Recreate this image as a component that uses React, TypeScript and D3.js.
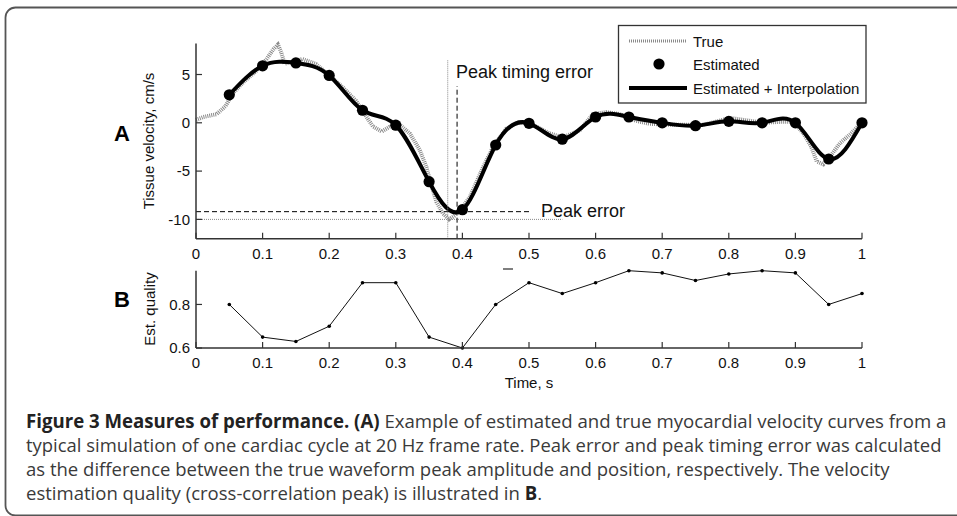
import React from "react";
import * as d3 from "d3";

const xTicks = [0, 0.1, 0.2, 0.3, 0.4, 0.5, 0.6, 0.7, 0.8, 0.9, 1];
const xTickLabels = ["0", "0.1", "0.2", "0.3", "0.4", "0.5", "0.6", "0.7", "0.8", "0.9", "1"];
const yTicksA = [-10, -5, 0, 5];
const yTicksB = [0.6, 0.8];

const estT = [0.05, 0.1, 0.15, 0.2, 0.25, 0.3, 0.35, 0.4, 0.45, 0.5, 0.55, 0.6, 0.65, 0.7, 0.75, 0.8, 0.85, 0.9, 0.95, 1.0];
const estV = [2.9, 5.9, 6.2, 4.9, 1.3, -0.25, -6.1, -9.0, -2.3, -0.05, -1.7, 0.6, 0.6, 0.0, -0.3, 0.15, 0.0, 0.0, -3.75, 0.0];

const trueT = [0, 0.011, 0.031, 0.044, 0.056, 0.071, 0.091, 0.106, 0.116, 0.123, 0.128, 0.133, 0.143, 0.16, 0.18, 0.2, 0.22, 0.24, 0.256, 0.266, 0.279, 0.291, 0.306, 0.321, 0.336, 0.346, 0.354, 0.361, 0.371, 0.38, 0.389, 0.396, 0.411, 0.431, 0.446, 0.466, 0.486, 0.511, 0.531, 0.551, 0.576, 0.596, 0.616, 0.636, 0.661, 0.681, 0.711, 0.727, 0.762, 0.802, 0.822, 0.852, 0.877, 0.897, 0.912, 0.924, 0.932, 0.942, 0.952, 0.967, 0.982, 0.995];
const trueV = [0.3, 0.6, 0.9, 1.7, 3.1, 4.2, 5.4, 6.6, 7.6, 8.1, 7.3, 6.1, 6.3, 6.6, 6.1, 4.9, 3.7, 2.3, 0.6, -0.4, -0.9, -0.4, -0.2, -1.1, -2.8, -4.6, -6.6, -8.2, -9.4, -10.0, -9.6, -9.1, -7.7, -4.6, -2.5, -0.6, 0.1, -0.4, -1.1, -1.5, -0.8, 0.9, 1.1, 0.9, 0.2, -0.1, -0.2, -0.2, -0.2, 0.5, 0.3, 0.0, 0.1, 0.1, -1.1, -2.5, -4.0, -4.3, -3.5, -2.1, -1.2, -0.3];

const qualT = estT;
const qualV = [0.8, 0.65, 0.63, 0.7, 0.9, 0.9, 0.65, 0.6, 0.8, 0.9, 0.85, 0.9, 0.955, 0.945, 0.91, 0.94, 0.955, 0.945, 0.8, 0.85];

const truePeakT = 0.378;
const truePeakV = -10.0;
const estPeakT = 0.392;
const estPeakV = -9.2;

const legendLabels = ["True", "Estimated", "Estimated + Interpolation"];
const captionLines = [
  [["Figure 3 Measures of performance. (A)", true], [" Example of estimated and true myocardial velocity curves from a", false]],
  [["typical simulation of one cardiac cycle at 20 Hz frame rate. Peak error and peak timing error was calculated", false]],
  [["as the difference between the true waveform peak amplitude and position, respectively. The velocity", false]],
  [["estimation quality (cross-correlation peak) is illustrated in ", false], ["B", true], [".", false]],
] as [string, boolean][][];
const captionTargets = [921, 916, 864, 0];

const AF = "'Liberation Sans', Arial, Helvetica, sans-serif";
const CF = "'Open Sans', 'Noto Sans', sans-serif";
const CFS = 19;
const AX = "#333";

function measureLine(line: [string, boolean][]): number {
  if (typeof document === "undefined") return 1;
  const c = document.createElement("canvas");
  const ctx = c.getContext("2d");
  if (!ctx) return 1;
  let w = 0;
  for (const [s, b] of line) {
    ctx.font = `${b ? "bold " : ""}${CFS}px 'Open Sans', 'Noto Sans', sans-serif`;
    w += ctx.measureText(s).width;
  }
  return w;
}

export default function App() {
  const x = d3.scaleLinear().domain([0, 1]).range([196, 862]);
  const yA = d3.scaleLinear().domain([-12, 8.2]).range([238.7, 43.6]);
  const yB = d3.scaleLinear().domain([0.6, 0.955]).range([348, 270.7]);

  const trueLine = d3.line<number>().x((d, i) => x(trueT[i])).y((d) => yA(d)).curve(d3.curveLinear);
  const estLine = d3.line<number>().x((d, i) => x(estT[i])).y((d) => yA(d)).curve(d3.curveNatural);
  const qualLine = d3.line<number>().x((d, i) => x(qualT[i])).y((d) => yB(d));

  const yA0 = yA.range()[0];
  const yB0 = yB.range()[0];

  const scales = React.useMemo(() => {
    const nat = captionLines.map((l) => measureLine(l));
    const s = nat.slice(0, 3).map((w, i) => captionTargets[i] / w);
    const avg = (s[0] + s[1] + s[2]) / 3;
    return [s[0], s[1], s[2], avg];
  }, []);

  return (
    <svg width={957} height={516} style={{ position: "absolute", left: 0, top: 0, background: "#fff" }}>
      <rect x={5.5} y={7.5} width={1000} height={508} rx={10} fill="#fff" stroke="#555" strokeWidth={1.8} />

      {/* Panel A */}
      <path d={trueLine(trueV) || ""} fill="none" stroke="#8a8a8a" strokeWidth={4} strokeDasharray="1 1" />
      <path d={estLine(estV) || ""} fill="none" stroke="#000" strokeWidth={4} />
      {estV.map((v, i) => (
        <circle key={i} cx={x(estT[i])} cy={yA(v)} r={5.6} fill="#000" />
      ))}

      {/* peak annotations */}
      <line x1={x(0)} x2={x(0.5)} y1={yA(estPeakV)} y2={yA(estPeakV)} stroke="#000" strokeWidth={1} strokeDasharray="5 3" />
      <line x1={x(0)} x2={x(0.55)} y1={yA(truePeakV)} y2={yA(truePeakV)} stroke="#888" strokeWidth={1} strokeDasharray="1 1" />
      <line x1={x(estPeakT)} x2={x(estPeakT)} y1={yA0} y2={yA(3.8)} stroke="#000" strokeWidth={1} strokeDasharray="5 3" />
      <line x1={x(truePeakT)} x2={x(truePeakT)} y1={yA0} y2={yA(6.5)} stroke="#888" strokeWidth={1} strokeDasharray="1 1" />
      <text x={456} y={77.5} fontFamily={AF} fontSize={18} fill="#111">Peak timing error</text>
      <text x={541} y={217} fontFamily={AF} fontSize={18} fill="#111">Peak error</text>

      {/* axes A */}
      <line x1={x(0)} x2={x(0)} y1={yA.range()[1]} y2={yA0} stroke={AX} strokeWidth={1.5} />
      <line x1={x(0)} x2={x(1)} y1={yA0} y2={yA0} stroke={AX} strokeWidth={1.5} />
      {xTicks.map((t, i) => (
        <g key={i}>
          <line x1={x(t)} x2={x(t)} y1={yA0} y2={yA0 - 6} stroke={AX} strokeWidth={1.2} />
          <text x={x(t)} y={259} textAnchor="middle" fontFamily={AF} fontSize={15} fill="#111">{xTickLabels[i]}</text>
        </g>
      ))}
      {yTicksA.map((t, i) => (
        <g key={i}>
          <line x1={x(0)} x2={x(0) + 6} y1={yA(t)} y2={yA(t)} stroke={AX} strokeWidth={1.2} />
          <text x={190} y={yA(t) + 5.4} textAnchor="end" fontFamily={AF} fontSize={15} fill="#111">{String(t)}</text>
        </g>
      ))}
      <text transform={`translate(154,141) rotate(-90)`} textAnchor="middle" fontFamily={AF} fontSize={15} fill="#111">Tissue velocity, cm/s</text>
      <text x={122} y={141} textAnchor="middle" fontFamily={AF} fontSize={22} fontWeight="bold" fill="#000">A</text>

      {/* legend */}
      <rect x={618.5} y={25.5} width={247.5} height={77.5} fill="#fff" stroke="#333" strokeWidth={1.3} />
      <line x1={629} x2={687} y1={41} y2={41} stroke="#8a8a8a" strokeWidth={3} strokeDasharray="1 1" />
      <circle cx={659} cy={64} r={5.6} fill="#000" />
      <line x1={629} x2={687} y1={88} y2={88} stroke="#000" strokeWidth={4} />
      {legendLabels.map((l, i) => (
        <text key={i} x={693} y={[47, 69.5, 94][i]} fontFamily={AF} fontSize={15} fill="#111">{l}</text>
      ))}

      {/* artifact mark */}
      <line x1={503} x2={513} y1={269} y2={269} stroke="#555" strokeWidth={1.5} />

      {/* Panel B */}
      <path d={qualLine(qualV) || ""} fill="none" stroke="#111" strokeWidth={1} />
      {qualV.map((v, i) => (
        <circle key={i} cx={x(qualT[i])} cy={yB(v)} r={1.8} fill="#000" />
      ))}
      <line x1={x(0)} x2={x(0)} y1={yB.range()[1]} y2={yB0} stroke={AX} strokeWidth={1.5} />
      <line x1={x(0)} x2={x(1)} y1={yB0} y2={yB0} stroke={AX} strokeWidth={1.5} />
      {xTicks.map((t, i) => (
        <g key={i}>
          <line x1={x(t)} x2={x(t)} y1={yB0} y2={yB0 - 6} stroke={AX} strokeWidth={1.2} />
          <text x={x(t)} y={368} textAnchor="middle" fontFamily={AF} fontSize={15} fill="#111">{xTickLabels[i]}</text>
        </g>
      ))}
      {yTicksB.map((t, i) => (
        <g key={i}>
          <line x1={x(0)} x2={x(0) + 6} y1={yB(t)} y2={yB(t)} stroke={AX} strokeWidth={1.2} />
          <text x={190} y={yB(t) + 5.4} textAnchor="end" fontFamily={AF} fontSize={15} fill="#111">{t.toFixed(1)}</text>
        </g>
      ))}
      <text transform={`translate(155,309) rotate(-90)`} textAnchor="middle" fontFamily={AF} fontSize={15} fill="#111">Est. quality</text>
      <text x={529} y={387.5} textAnchor="middle" fontFamily={AF} fontSize={15} fill="#111">Time, s</text>
      <text x={122} y={307} textAnchor="middle" fontFamily={AF} fontSize={22} fontWeight="bold" fill="#000">B</text>

      {/* caption */}
      {captionLines.map((line, li) => (
        <g key={li} transform={`translate(26,${428 + li * 24}) scale(${scales[li]},1)`}>
          <text x={0} y={0} fontFamily={CF} fontSize={CFS} fill="#3a3a3a">
            {line.map(([s, b], si) => (
              <tspan key={si} fontWeight={b ? "bold" : "normal"} fill={b ? "#222" : "#3a3a3a"}>{s}</tspan>
            ))}
          </text>
        </g>
      ))}
    </svg>
  );
}
